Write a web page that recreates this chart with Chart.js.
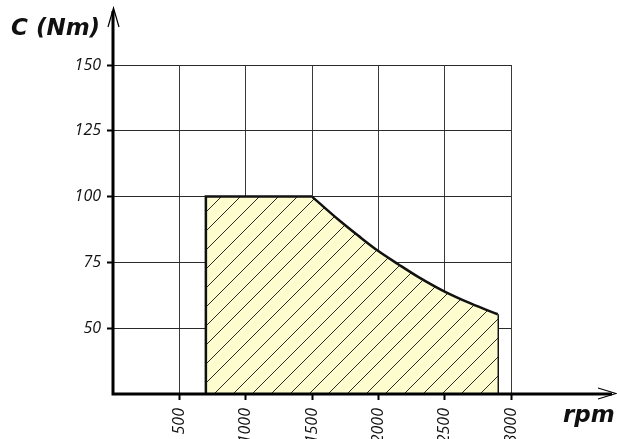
<!DOCTYPE html>
<html lang="en">
<head>
    <meta charset="UTF-8">
    <title>C (Nm) vs rpm</title>
    <script src="https://cdn.jsdelivr.net/npm/chart.js"></script>
    <style>
        html, body { margin: 0; padding: 0; overflow: hidden; background: #fff; }
        canvas { display: block; }
    </style>
</head>
<body>
    <canvas id="grafico" width="617" height="480"></canvas>
    <script>
        // envelope of the hatched zone
        const rpm    = [700, 1500, 1700, 1850, 2000, 2150, 2300, 2500, 2700, 2900]
        const torque = [100,  100, 91.2, 85.1, 79.3, 74.3, 69.5, 63.9, 59.3, 55.3]

        const xTicks = [500, 1000, 1500, 2000, 2500, 3000]
        const yTicks = [50, 75, 100, 125, 150]
        const xMin = 0, yMin = 25

        const H = 480
        const axisLeft = 113, axisBottom = 394

        const pts = rpm.map((r, i) => ({ x: r, y: torque[i] }))
        const ultimo = pts[pts.length - 1]
        // flat part (with left edge), curved part, right edge
        const plano = [{ x: rpm[0], y: yMin }, pts[0], pts[1]]
        const curva = pts.slice(1)
        const borda = [ultimo, { x: ultimo.x, y: yMin }]

        // diagonal hatch
        const hachura = () => {
            const s = 19
            const c = document.createElement('canvas')
            c.width = s; c.height = s
            const g = c.getContext('2d')
            g.fillStyle = '#fcfccf'
            g.fillRect(0, 0, s, s)
            g.strokeStyle = '#2a2a2a'
            g.lineWidth = 1
            g.beginPath()
            g.moveTo(-1, s + 1); g.lineTo(s + 1, -1)
            g.moveTo(-2, 1); g.lineTo(1, -2)
            g.moveTo(s - 1, s + 2); g.lineTo(s + 2, s - 1)
            g.stroke()
            return g.createPattern(c, 'repeat')
        }
        const padrao = hachura()

        const eixos = {
            id: 'eixos',
            afterDraw(chart) {
                const g = chart.ctx
                g.save()
                g.strokeStyle = '#000'
                g.lineWidth = 3
                g.beginPath()
                g.moveTo(axisLeft, axisBottom + 1.5); g.lineTo(axisLeft, 11)
                g.moveTo(axisLeft - 1.5, axisBottom); g.lineTo(612, axisBottom)
                g.stroke()
                // open arrow heads
                g.lineWidth = 1.2
                g.beginPath()
                g.moveTo(108, 27); g.lineTo(113.5, 8); g.lineTo(119, 27)
                g.moveTo(113.5, 8); g.lineTo(113.5, 22)
                g.moveTo(598, 388); g.lineTo(616, 393.5); g.lineTo(598, 399)
                g.stroke()
                g.fillStyle = '#111'
                g.font = 'italic bold 23px "DejaVu Sans"'
                g.textAlign = 'left'
                g.textBaseline = 'alphabetic'
                g.fillText('C (Nm)', 11, 35)
                g.fillText('rpm', 563, 422)
                g.restore()
            }
        }

        const fonteTick = { family: '"Open Sans", "Liberation Sans", sans-serif', size: 16, style: 'italic' }
        const comum = { pointRadius: 0, borderColor: '#111', borderWidth: 2.5 }

        new Chart(document.getElementById('grafico'), {
            type: 'line',
            data: {
                datasets: [
                    { ...comum, data: plano, fill: 'start', backgroundColor: padrao, tension: 0 },
                    { ...comum, data: curva, fill: 'start', backgroundColor: padrao, cubicInterpolationMode: 'monotone' },
                    { ...comum, data: borda, fill: false, tension: 0 }
                ]
            },
            options: {
                responsive: false,
                animation: false,
                layout: { padding: { top: 65, right: 106, left: 0, bottom: 0 } },
                plugins: { legend: { display: false }, tooltip: { enabled: false } },
                scales: {
                    x: {
                        type: 'linear',
                        min: xMin,
                        max: xTicks[xTicks.length - 1],
                        z: 1,
                        afterBuildTicks: s => { s.ticks = [xMin, ...xTicks].map(v => ({ value: v })) },
                        afterFit: s => { s.height = H - axisBottom },
                        border: { display: false },
                        grid: {
                            color: '#3a3a3a',
                            lineWidth: 1,
                            tickLength: 6,
                            tickWidth: 2,
                            tickColor: c => c.tick && c.tick.value === xMin ? 'rgba(0,0,0,0)' : '#000'
                        },
                        ticks: {
                            autoSkip: false,
                            minRotation: 90,
                            maxRotation: 90,
                            padding: 8,
                            color: '#111',
                            font: fonteTick,
                            callback: v => v === xMin ? '' : String(v)
                        }
                    },
                    y: {
                        min: yMin,
                        max: yTicks[yTicks.length - 1],
                        z: 1,
                        afterBuildTicks: s => { s.ticks = [yMin, ...yTicks].map(v => ({ value: v })) },
                        afterFit: s => { s.width = axisLeft },
                        border: { display: false },
                        grid: {
                            color: '#2a2a2a',
                            lineWidth: 1,
                            tickLength: 6,
                            tickWidth: 2,
                            tickColor: c => c.tick && c.tick.value === yMin ? 'rgba(0,0,0,0)' : '#000'
                        },
                        ticks: {
                            padding: 6,
                            color: '#111',
                            font: fonteTick,
                            callback: v => v === yMin ? '' : String(v)
                        }
                    }
                }
            },
            plugins: [eixos]
        })
    </script>
</body>
</html>
